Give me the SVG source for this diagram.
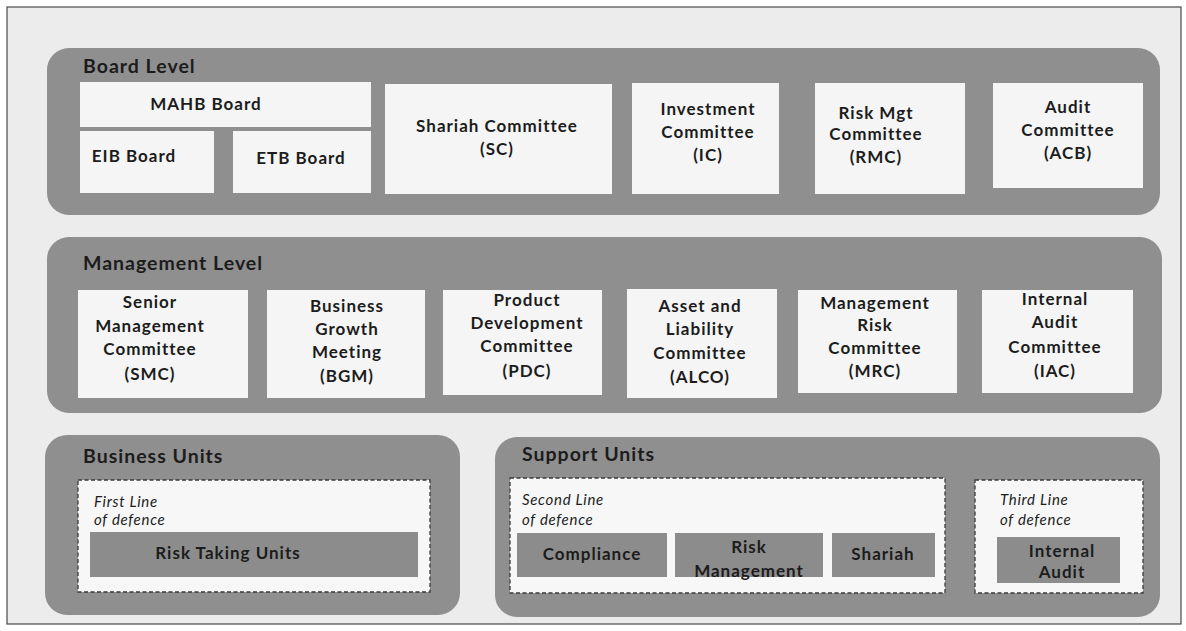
<svg xmlns="http://www.w3.org/2000/svg" width="1186" height="631" viewBox="0 0 1186 631">
  <style>
    .page { fill: #ececec; stroke: #4a4a4a; stroke-width: 1.2; }
    .panel { fill: #8f8f8f; }
    .box { fill: #f5f5f5; }
    .unit { fill: #8c8c8c; }
    .line { fill: #f7f7f7; stroke: #3a3a3a; stroke-width: 1.3; stroke-dasharray: 4 2.5; }
    .title { font-family: Lato, "Liberation Sans", sans-serif; font-weight: bold; font-size: 19.5px; letter-spacing: 1px; fill: #1c1c1c; }
    .t { font-family: Lato, "Liberation Sans", sans-serif; font-weight: bold; font-size: 17px; letter-spacing: 1px; fill: #1c1c1c; text-anchor: middle; }
    .note { font-family: Lato, "Liberation Sans", sans-serif; font-style: italic; font-size: 15px; letter-spacing: 0.7px; fill: #1c1c1c; }
  </style>

  <rect x="0" y="0" width="1186" height="631" fill="#ffffff"/>
  <rect class="page" x="7" y="7" width="1174" height="617"/>

  <!-- Board level -->
  <g id="board-level">
    <rect class="panel" x="47" y="48" width="1113" height="167" rx="22"/>
    <text class="title" x="83" y="73">Board Level</text>
  </g>
  <g id="mahb-board">
    <rect class="box" x="80" y="82" width="291" height="45"/>
    <text class="t" x="206" y="110">MAHB Board</text>
  </g>
  <g id="eib-board">
    <rect class="box" x="80" y="131" width="134" height="62"/>
    <text class="t" x="134" y="162">EIB Board</text>
  </g>
  <g id="etb-board">
    <rect class="box" x="233" y="131" width="138" height="62"/>
    <text class="t" x="301" y="164">ETB Board</text>
  </g>
  <g id="sc">
    <rect class="box" x="385" y="84" width="227" height="110"/>
    <text class="t" x="497" y="132">Shariah Committee</text>
    <text class="t" x="497" y="155">(SC)</text>
  </g>
  <g id="ic">
    <rect class="box" x="632" y="83" width="147" height="111"/>
    <text class="t" x="708" y="115">Investment</text>
    <text class="t" x="708" y="138">Committee</text>
    <text class="t" x="708" y="161">(IC)</text>
  </g>
  <g id="rmc">
    <rect class="box" x="815" y="83" width="150" height="111"/>
    <text class="t" x="876" y="119">Risk Mgt</text>
    <text class="t" x="876" y="140">Committee</text>
    <text class="t" x="876" y="163">(RMC)</text>
  </g>
  <g id="acb">
    <rect class="box" x="993" y="83" width="150" height="105"/>
    <text class="t" x="1068" y="113">Audit</text>
    <text class="t" x="1068" y="136">Committee</text>
    <text class="t" x="1068" y="159">(ACB)</text>
  </g>

  <!-- Management level -->
  <g id="management-level">
    <rect class="panel" x="47" y="237" width="1115" height="176" rx="22"/>
    <text class="title" x="83" y="270">Management Level</text>
  </g>
  <g id="smc">
    <rect class="box" x="78" y="290" width="170" height="108"/>
    <text class="t" x="150" y="308">Senior</text>
    <text class="t" x="150" y="332">Management</text>
    <text class="t" x="150" y="355">Committee</text>
    <text class="t" x="150" y="380">(SMC)</text>
  </g>
  <g id="bgm">
    <rect class="box" x="267" y="290" width="158" height="108"/>
    <text class="t" x="347" y="312">Business</text>
    <text class="t" x="347" y="335">Growth</text>
    <text class="t" x="347" y="358">Meeting</text>
    <text class="t" x="347" y="382">(BGM)</text>
  </g>
  <g id="pdc">
    <rect class="box" x="443" y="290" width="159" height="105"/>
    <text class="t" x="527" y="306">Product</text>
    <text class="t" x="527" y="329">Development</text>
    <text class="t" x="527" y="352">Committee</text>
    <text class="t" x="527" y="377">(PDC)</text>
  </g>
  <g id="alco">
    <rect class="box" x="627" y="289" width="150" height="109"/>
    <text class="t" x="700" y="312">Asset and</text>
    <text class="t" x="700" y="335">Liability</text>
    <text class="t" x="700" y="359">Committee</text>
    <text class="t" x="700" y="383">(ALCO)</text>
  </g>
  <g id="mrc">
    <rect class="box" x="798" y="290" width="159" height="103"/>
    <text class="t" x="875" y="309">Management</text>
    <text class="t" x="875" y="331">Risk</text>
    <text class="t" x="875" y="354">Committee</text>
    <text class="t" x="875" y="377">(MRC)</text>
  </g>
  <g id="iac">
    <rect class="box" x="982" y="290" width="151" height="103"/>
    <text class="t" x="1055" y="305">Internal</text>
    <text class="t" x="1055" y="328">Audit</text>
    <text class="t" x="1055" y="353">Committee</text>
    <text class="t" x="1055" y="377">(IAC)</text>
  </g>

  <!-- Business units -->
  <g id="business-units">
    <rect class="panel" x="45" y="435" width="415" height="180" rx="22"/>
    <text class="title" x="83" y="463">Business Units</text>
  </g>
  <g id="first-line">
    <rect class="line" x="78" y="480" width="352" height="112"/>
    <text class="note" x="94" y="507">First Line</text>
    <text class="note" x="94" y="525">of defence</text>
  </g>
  <g id="risk-taking-units">
    <rect class="unit" x="90" y="532" width="328" height="45"/>
    <text class="t" x="228" y="559">Risk Taking Units</text>
  </g>

  <!-- Support units -->
  <g id="support-units">
    <rect class="panel" x="495" y="437" width="665" height="180" rx="22"/>
    <text class="title" x="522" y="461">Support Units</text>
  </g>
  <g id="second-line">
    <rect class="line" x="510" y="478" width="435" height="115"/>
    <text class="note" x="522" y="505">Second Line</text>
    <text class="note" x="522" y="525">of defence</text>
  </g>
  <g id="compliance">
    <rect class="unit" x="517" y="533" width="150" height="44"/>
    <text class="t" x="592" y="560">Compliance</text>
  </g>
  <g id="risk-management">
    <rect class="unit" x="675" y="533" width="148" height="44"/>
    <text class="t" x="749" y="553">Risk</text>
    <text class="t" x="749" y="577">Management</text>
  </g>
  <g id="shariah">
    <rect class="unit" x="832" y="533" width="103" height="44"/>
    <text class="t" x="883" y="560">Shariah</text>
  </g>
  <g id="third-line">
    <rect class="line" x="975" y="480" width="168" height="113"/>
    <text class="note" x="1000" y="505">Third Line</text>
    <text class="note" x="1000" y="525">of defence</text>
  </g>
  <g id="internal-audit">
    <rect class="unit" x="997" y="537" width="123" height="46"/>
    <text class="t" x="1062" y="557">Internal</text>
    <text class="t" x="1062" y="578">Audit</text>
  </g>

  <!-- No connectors in this layout -->
  <g id="connectors"/>
</svg>
